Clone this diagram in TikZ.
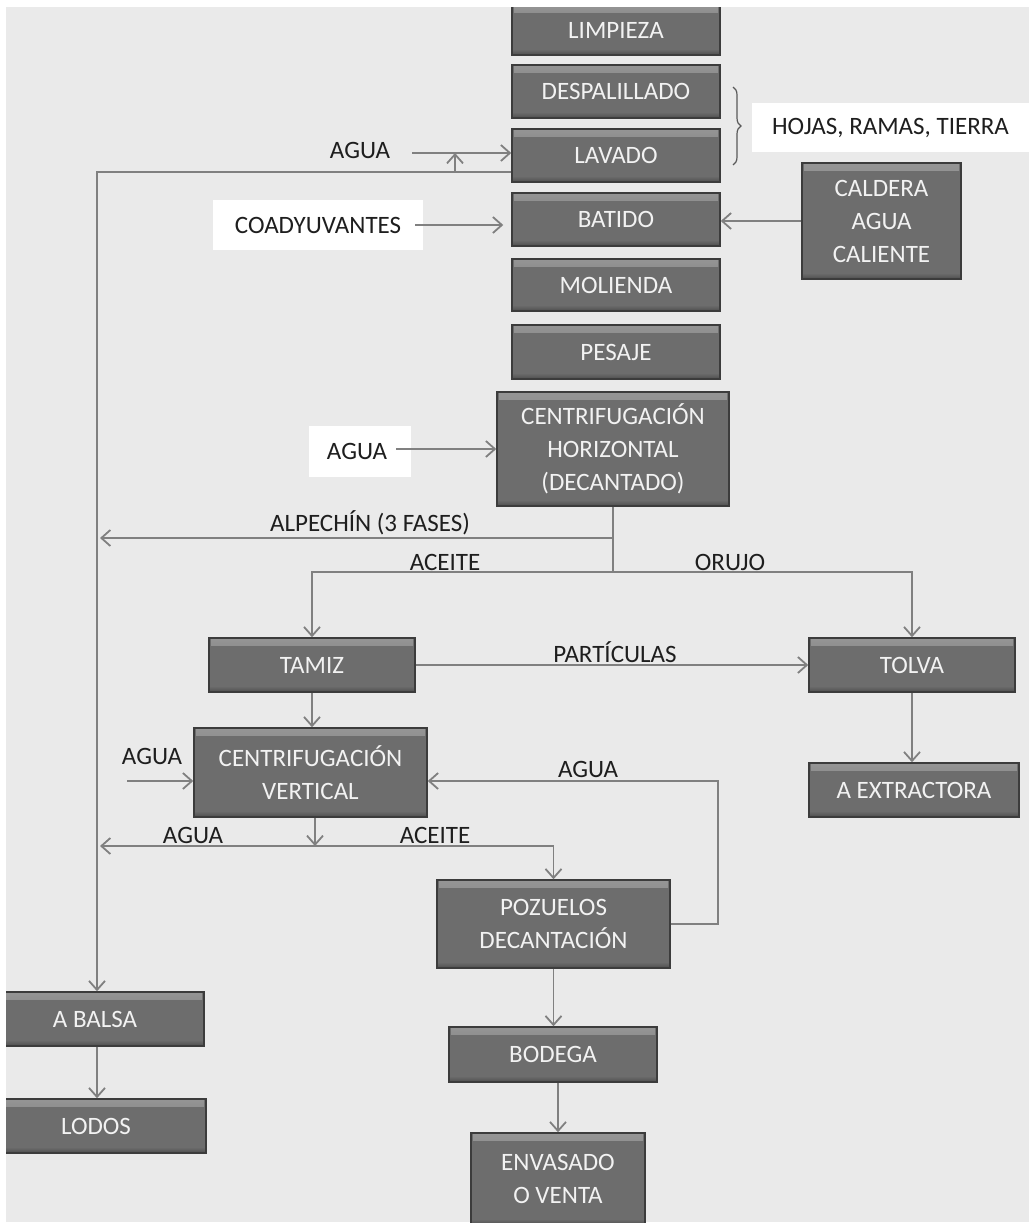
\documentclass[tikz,border=0pt]{standalone}
\usepackage{fontspec}
\setmainfont{Carlito}
\usetikzlibrary{arrows.meta,decorations.pathreplacing}
\definecolor{bgc}{HTML}{EAEAEA}
\definecolor{boxfill}{HTML}{6D6D6D}
\definecolor{boxhi}{HTML}{959595}
\definecolor{boxlo}{HTML}{4E4E4E}
\definecolor{boxedge}{HTML}{3C3C3C}
\definecolor{boxtext}{HTML}{F2F2F2}
\definecolor{linec}{HTML}{808080}
\definecolor{txtc}{HTML}{1E1E1E}
\newcommand\bxfont{\fontsize{25}{33}\selectfont}
\tikzset{
  proc/.style={draw=boxedge, line width=1.5pt, fill=boxfill, text=boxtext,
    font=\bxfont, align=center, inner sep=0pt,
    path picture={
      \fill[top color=boxhi, bottom color=boxfill]
        ([xshift=2pt,yshift=-1pt]path picture bounding box.north west) rectangle ([xshift=-2pt,yshift=-7pt]path picture bounding box.north east);
      \fill[top color=boxfill, bottom color=boxlo]
        ([yshift=6pt]path picture bounding box.south west) rectangle (path picture bounding box.south east);
    }},
  lbl/.style={text=txtc, font=\bxfont, inner sep=0pt},
  wlbl/.style={lbl, fill=white, align=center},
  conn/.style={draw=linec, line width=1.8pt},
  arr/.style={conn, -{Straight Barb[length=9pt,width=16pt,line width=1.8pt]}},
}
\begin{document}
\begin{tikzpicture}[x=1pt,y=-1pt]
\useasboundingbox (0,0) rectangle (1029,1226);
\fill[white] (0,0) rectangle (1029,1226);
\fill[bgc] (6,7) rectangle (1029,1222);
\begin{scope}
\clip (6,7) rectangle (1029,1222);
% process boxes
\node[proc, minimum width=208pt, minimum height=50pt] (limp) at (616,30) {LIMPIEZA};
\node[proc, minimum width=208pt, minimum height=53pt] (desp) at (616,91.5) {DESPALILLADO};
\node[proc, minimum width=208pt, minimum height=53pt] (lav) at (616,155.5) {LAVADO};
\node[proc, minimum width=208pt, minimum height=53pt] (bat) at (616,219.5) {BATIDO};
\node[proc, minimum width=208pt, minimum height=52pt] (mol) at (616,285) {MOLIENDA};
\node[proc, minimum width=208pt, minimum height=54pt] (pes) at (616,352) {PESAJE};
\node[proc, minimum width=232pt, minimum height=114pt] (ch) at (613,449) {CENTRIFUGACIÓN\\HORIZONTAL\\(DECANTADO)};
\node[proc, minimum width=159pt, minimum height=116pt] (cald) at (881.5,221) {CALDERA\\AGUA\\CALIENTE};
\node[proc, minimum width=206pt, minimum height=54pt] (tamiz) at (312,665) {TAMIZ};
\node[proc, minimum width=206pt, minimum height=54pt] (tolva) at (912,665) {TOLVA};
\node[proc, minimum width=233pt, minimum height=89pt] (cv) at (310.5,772.5) {CENTRIFUGACIÓN\\VERTICAL};
\node[proc, minimum width=210pt, minimum height=54pt] (aext) at (914,790) {A EXTRACTORA};
\node[proc, minimum width=233pt, minimum height=88pt] (poz) at (553.5,924) {POZUELOS\\DECANTACIÓN};
\node[proc, minimum width=208pt, minimum height=55pt] (bod) at (553,1054.5) {BODEGA};
\node[proc, minimum width=174pt, minimum height=92pt] (env) at (558,1179) {ENVASADO\\O VENTA};
\node[proc, minimum width=218pt, minimum height=54pt] (balsa) at (95,1019) {A BALSA};
\node[proc, minimum width=220pt, minimum height=54pt] (lodos) at (96,1126) {LODOS};
% white labels
\node[wlbl, minimum width=277pt, minimum height=49pt] (hojas) at (890.5,127.5) {HOJAS, RAMAS, TIERRA};
\node[wlbl, minimum width=210pt, minimum height=50pt] (coad) at (318,225) {COADYUVANTES};
\node[wlbl, minimum width=102pt, minimum height=51pt, text width=102pt] (aguaB) at (360,451.5) {AGUA\hspace*{6pt}};
% plain labels
\node[lbl] (lagua1) at (360,150) {AGUA};
\node[lbl] (lalpe) at (370,523) {ALPECHÍN (3 FASES)};
\node[lbl] (lace1) at (445,562) {ACEITE};
\node[lbl] (lorujo) at (730,562) {ORUJO};
\node[lbl] (lpart) at (615,652) {PARTÍCULAS};
\node[lbl] (lagua3) at (152,756) {AGUA};
\node[lbl] (lagua4) at (588,769) {AGUA};
\node[lbl] (lagua5) at (193,835) {AGUA};
\node[lbl] (lace2) at (435,835) {ACEITE};
% brace
\draw[draw=black!65, line width=1.2pt, decorate, decoration={brace, amplitude=8pt}] (733,87) -- (733,165);
% coordinates
\coordinate (t1) at (97,172);
\coordinate (a1s) at (412,153);
\coordinate (k1) at (455,172);
\coordinate (a2s) at (396,449);
\coordinate (h1) at (613,538);
\coordinate (h2) at (613,572);
\coordinate (hL) at (100,538);
\coordinate (a3s) at (127,781);
\coordinate (rc) at (718,781);
\coordinate (b1) at (315,846);
\coordinate (bL) at (100,846);
% connectors
\draw[arr] (lav.west |- t1) -- (t1) -- (t1 |- balsa.north);
\draw[arr] (a1s) -- (a1s -| lav.west);
\draw[arr] (k1) -- (k1 |- a1s);
\draw[arr] ([xshift=-8pt]coad.east) -- ([xshift=-8pt]coad.east -| bat.west);
\draw[arr] (cald.west) -- (cald.west -| bat.east);
\draw[arr] (a2s) -- (a2s -| ch.west);
\draw[conn] (ch.south) -- (h2);
\draw[arr] (h1) -- (hL);
\draw[arr] (h2) -| (tamiz.north);
\draw[arr] (h2) -| (tolva.north);
\draw[arr] (tamiz.east) -- (tolva.west);
\draw[arr] (tamiz.south) -- (tamiz.south |- cv.north);
\draw[arr] (tolva.south) -- (tolva.south |- aext.north);
\draw[arr] (a3s) -- (a3s -| cv.west);
\draw[arr] (poz.east) -| (rc) -- (rc -| cv.east);
\draw[arr] (b1 |- cv.south) -- (b1);
\draw[arr] (b1) -- (bL);
\draw[arr] (b1) -| (poz.north);
\draw[arr] (t1 |- balsa.south) -- (t1 |- lodos.north);
\draw[arr] (poz.south) -- (poz.south |- bod.north);
\draw[arr] (env.north |- bod.south) -- (env.north);
\end{scope}
\end{tikzpicture}
\end{document}
